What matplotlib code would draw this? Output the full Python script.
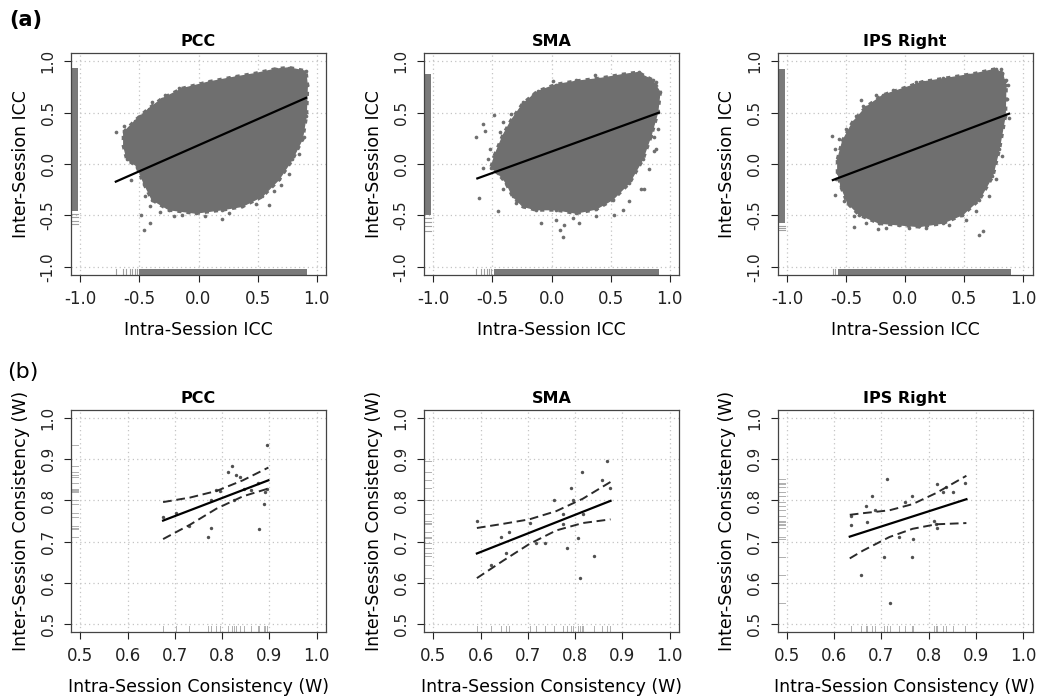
import matplotlib.pyplot as plt
from matplotlib.patches import Rectangle
from matplotlib.transforms import blended_transform_factory

plt.rcParams['font.family'] = ['DejaVu Sans']
plt.rcParams['axes.unicode_minus'] = False

regions = ['PCC', 'SMA', 'IPS Right']

# ---------------- (a) voxel-wise ICC: outline of the dense point cloud ----------------
pcc_cloud_x = [-0.633, -0.534, -0.421, -0.308, -0.138, 0.088, 0.314, 0.483, 0.653, 0.766, 0.907, 0.921, 0.912,
               0.879, 0.794, 0.681, 0.540, 0.370, 0.201, -0.025, -0.251, -0.393, -0.463, -0.520, -0.605, -0.633]
pcc_cloud_y = [0.307, 0.422, 0.536, 0.634, 0.732, 0.797, 0.846, 0.879, 0.922, 0.935, 0.902, 0.765, 0.471,
               0.242, 0.046, -0.150, -0.314, -0.412, -0.444, -0.477, -0.444, -0.346, -0.183, -0.020, 0.046, 0.176]
sma_cloud_x = [-0.482, -0.411, -0.341, -0.242, -0.115, 0.039, 0.208, 0.406, 0.603, 0.730, 0.856, 0.918, 0.899,
               0.842, 0.772, 0.659, 0.518, 0.377, 0.208, 0.039, -0.130, -0.242, -0.327, -0.383, -0.454, -0.510]
sma_cloud_y = [0.078, 0.275, 0.422, 0.585, 0.706, 0.771, 0.804, 0.830, 0.869, 0.889, 0.814, 0.699, 0.503,
               0.275, 0.046, -0.183, -0.346, -0.438, -0.477, -0.444, -0.444, -0.412, -0.314, -0.183, -0.085, -0.036]
ips_cloud_x = [-0.569, -0.527, -0.442, -0.330, -0.189, -0.020, 0.149, 0.375, 0.600, 0.769, 0.825, 0.854, 0.848,
               0.797, 0.741, 0.628, 0.487, 0.318, 0.121, -0.048, -0.217, -0.386, -0.485, -0.541, -0.569]
ips_cloud_y = [0.046, 0.225, 0.405, 0.552, 0.667, 0.732, 0.797, 0.837, 0.879, 0.922, 0.879, 0.765, 0.471,
               0.144, -0.118, -0.346, -0.493, -0.575, -0.608, -0.592, -0.575, -0.493, -0.379, -0.216, -0.085]

# scattered voxels along the rim of each cloud and isolated outliers
pcc_out_x = [-0.703, -0.483, -0.463, -0.407, 0.596, 0.695, -0.576, -0.209, 0.201,
             -0.633, -0.605, -0.562, -0.492, -0.393, -0.280, -0.167, 0.257, 0.568, 0.709,
             -0.455, -0.407, -0.322, -0.138, 0.059, 0.257, 0.483, 0.638, 0.766, 0.850, 0.893]
pcc_out_y = [0.307, -0.493, -0.641, -0.575, -0.395, -0.209, -0.160, -0.510, -0.536,
             0.373, 0.144, 0.046, 0.471, 0.608, 0.667, 0.739, 0.837, 0.889, 0.928,
             -0.314, -0.412, -0.471, -0.493, -0.503, -0.477, -0.386, -0.265, -0.101, 0.095, 0.258]
sma_out_x = [-0.637, -0.580, -0.490, -0.614, -0.454, 0.068, 0.096, 0.110, 0.786, 0.870, 0.870, 0.372, 0.011, 0.603, 0.659,
             -0.566, -0.524, -0.580, -0.538, -0.439, -0.411, -0.341, -0.242, -0.158, 0.208, 0.744, 0.885,
             -0.411, -0.299, -0.087, 0.039, 0.180, 0.237, 0.377, 0.532, 0.758, 0.828, 0.885, 0.899]
sma_out_y = [0.258, 0.389, 0.480, -0.330, -0.461, -0.641, -0.706, -0.592, -0.248, 0.258, 0.127, 0.863, 0.804, -0.444, -0.363,
             0.324, 0.144, -0.036, 0.046, 0.307, 0.405, 0.487, 0.601, 0.667, 0.814, 0.895, 0.797,
             -0.248, -0.379, -0.575, -0.542, -0.526, -0.575, -0.510, -0.493, -0.248, -0.052, 0.144, 0.340]
ips_out_x = [-0.617, -0.597, -0.428, -0.231, 0.628, 0.662, 0.873, 0.882, -0.372, 0.811,
             -0.597, -0.583, -0.555, -0.499, -0.414, -0.358, -0.245, -0.104, 0.093, 0.318, 0.544, 0.741, 0.854, 0.868,
             -0.513, -0.428, -0.330, -0.161, 0.037, 0.177, 0.375, 0.515, 0.600, 0.713, 0.769, 0.825]
ips_out_y = [0.268, -0.297, -0.614, -0.634, -0.690, -0.650, 0.765, 0.444, 0.618, 0.922,
             0.144, -0.150, 0.242, 0.340, 0.471, 0.569, 0.667, 0.716, 0.797, 0.837, 0.863, 0.912, 0.814, 0.634,
             -0.363, -0.510, -0.575, -0.624, -0.624, -0.624, -0.592, -0.542, -0.461, -0.314, -0.150, 0.078]

# regression lines (end points)
pcc_fit_x, pcc_fit_y = [-0.709, 0.920], [-0.176, 0.648]
sma_fit_x, sma_fit_y = [-0.637, 0.918], [-0.144, 0.503]
ips_fit_x, ips_fit_y = [-0.620, 0.890], [-0.160, 0.493]

# rugs: dense range + a few separate ticks below it
pcc_rug_y, pcc_rug_y_sparse = (-0.46, 0.935), [-0.49, -0.52, -0.55, -0.58]
pcc_rug_x, pcc_rug_x_sparse = (-0.50, 0.921), [-0.703, -0.64, -0.61, -0.58, -0.56, -0.54, -0.52]
sma_rug_y, sma_rug_y_sparse = (-0.50, 0.88), [-0.53, -0.56, -0.60, -0.65]
sma_rug_x, sma_rug_x_sparse = (-0.49, 0.913), [-0.637, -0.60, -0.57, -0.55, -0.53, -0.51]
ips_rug_y, ips_rug_y_sparse = (-0.575, 0.922), [-0.60, -0.62, -0.64]
ips_rug_x, ips_rug_x_sparse = (-0.57, 0.896), [-0.611, -0.59]

# ---------------- (b) subject-level consistency (Kendall's W) ----------------
pcc_w_x = [0.675, 0.702, 0.730, 0.776, 0.770, 0.777, 0.787, 0.795, 0.812, 0.821, 0.830, 0.838,
           0.825, 0.846, 0.861, 0.876, 0.878, 0.888, 0.891, 0.896, 0.896]
pcc_w_y = [0.759, 0.769, 0.738, 0.734, 0.711, 0.800, 0.825, 0.822, 0.869, 0.884, 0.861, 0.857,
           0.800, 0.829, 0.825, 0.843, 0.730, 0.792, 0.820, 0.827, 0.934]
sma_w_x = [0.592, 0.622, 0.643, 0.660, 0.654, 0.705, 0.717, 0.736, 0.755, 0.775, 0.775, 0.783,
           0.792, 0.796, 0.807, 0.810, 0.814, 0.817, 0.840, 0.856, 0.868, 0.873]
sma_w_y = [0.751, 0.643, 0.710, 0.723, 0.671, 0.745, 0.697, 0.697, 0.800, 0.768, 0.743, 0.684,
           0.830, 0.800, 0.708, 0.612, 0.870, 0.766, 0.665, 0.849, 0.897, 0.830]
ips_w_x = [0.635, 0.635, 0.656, 0.667, 0.670, 0.680, 0.686, 0.712, 0.705, 0.737, 0.749, 0.765,
           0.767, 0.764, 0.812, 0.816, 0.818, 0.818, 0.830, 0.837, 0.852, 0.878, 0.719]
ips_w_y = [0.740, 0.762, 0.619, 0.787, 0.748, 0.812, 0.777, 0.852, 0.663, 0.712, 0.796, 0.811,
           0.707, 0.663, 0.749, 0.743, 0.734, 0.840, 0.820, 0.832, 0.820, 0.842, 0.551]

# fitted line and 95% confidence band
pcc_band_x = [0.675, 0.732, 0.788, 0.844, 0.898]
pcc_band_lo = [0.706, 0.741, 0.780, 0.810, 0.829]
pcc_band_hi = [0.796, 0.807, 0.823, 0.849, 0.880]
pcc_line_x, pcc_line_y = [0.675, 0.898], [0.751, 0.849]
sma_band_x = [0.592, 0.647, 0.703, 0.760, 0.816, 0.875]
sma_band_lo = [0.611, 0.653, 0.694, 0.727, 0.745, 0.754]
sma_band_hi = [0.733, 0.743, 0.754, 0.774, 0.804, 0.845]
sma_line_x, sma_line_y = [0.592, 0.875], [0.671, 0.799]
ips_band_x = [0.633, 0.661, 0.717, 0.766, 0.816, 0.880]
ips_band_lo = [0.659, 0.678, 0.711, 0.731, 0.742, 0.745]
ips_band_hi = [0.765, 0.769, 0.776, 0.791, 0.818, 0.860]
ips_line_x, ips_line_y = [0.633, 0.880], [0.712, 0.803]

top = [
    (pcc_cloud_x, pcc_cloud_y, pcc_out_x, pcc_out_y, pcc_fit_x, pcc_fit_y,
     pcc_rug_y, pcc_rug_y_sparse, pcc_rug_x, pcc_rug_x_sparse),
    (sma_cloud_x, sma_cloud_y, sma_out_x, sma_out_y, sma_fit_x, sma_fit_y,
     sma_rug_y, sma_rug_y_sparse, sma_rug_x, sma_rug_x_sparse),
    (ips_cloud_x, ips_cloud_y, ips_out_x, ips_out_y, ips_fit_x, ips_fit_y,
     ips_rug_y, ips_rug_y_sparse, ips_rug_x, ips_rug_x_sparse),
]
bottom = [
    (pcc_w_x, pcc_w_y, pcc_band_x, pcc_band_lo, pcc_band_hi, pcc_line_x, pcc_line_y),
    (sma_w_x, sma_w_y, sma_band_x, sma_band_lo, sma_band_hi, sma_line_x, sma_line_y),
    (ips_w_x, ips_w_y, ips_band_x, ips_band_lo, ips_band_hi, ips_line_x, ips_line_y),
]

CLOUD = '#6f6f6f'
RUG_LEN = 0.028


def r_style(ax, ticks, lim):
    ax.set_xlim(lim)
    ax.set_ylim(lim)
    ax.set_xticks(ticks)
    ax.set_yticks(ticks)
    ax.set_xticklabels([f'{t:.1f}' for t in ticks], fontsize=12)
    ax.set_yticklabels([f'{t:.1f}' for t in ticks], fontsize=11, rotation=90, va='center')
    ax.grid(True, color='#c4c4c4', linestyle=(0, (1, 2.5)), linewidth=0.9)
    ax.set_axisbelow(True)
    ax.tick_params(axis='both', direction='out', length=5, width=0.8, colors='#222222')
    ax.tick_params(axis='x', pad=6)
    ax.tick_params(axis='y', pad=6)
    for s in ax.spines.values():
        s.set_linewidth(0.9)
        s.set_edgecolor('#444444')


fig = plt.figure(figsize=(10.38, 7.0), dpi=100)
lefts = [71 / 1038, 424 / 1038, 777.5 / 1038]
w, h = 255 / 1038, 222 / 700

# ---- row (a) ----
ticks_a = [-1.0, -0.5, 0.0, 0.5, 1.0]
for i, (name, d) in enumerate(zip(regions, top)):
    cx, cy, ox, oy, fx, fy, ry, rys, rx, rxs = d
    ax = fig.add_axes([lefts[i], 1 - 275 / 700, w, h])
    ax.fill(cx, cy, color=CLOUD, zorder=2)
    ax.plot(cx + cx[:1], cy + cy[:1], color=CLOUD, lw=3, linestyle=(0, (1, 1.2)), zorder=2)
    ax.scatter(cx, cy, s=7, color=CLOUD, linewidths=0, zorder=2)
    ax.scatter(ox, oy, s=7, color=CLOUD, linewidths=0, zorder=2)
    ax.plot(fx, fy, color='black', lw=1.6, zorder=3, solid_capstyle='butt')

    # rugs along the left and bottom edges
    ty = blended_transform_factory(ax.transAxes, ax.transData)
    tx = blended_transform_factory(ax.transData, ax.transAxes)
    ax.add_patch(Rectangle((0, ry[0]), RUG_LEN, ry[1] - ry[0], transform=ty,
                           facecolor='#7a7a7a', edgecolor='none', zorder=2))
    ax.add_patch(Rectangle((rx[0], 0), rx[1] - rx[0], RUG_LEN, transform=tx,
                           facecolor='#7a7a7a', edgecolor='none', zorder=2))
    for v in rys:
        ax.plot([0, RUG_LEN], [v, v], transform=ty, color='#a0a0a0', lw=0.8, zorder=2)
    for v in rxs:
        ax.plot([v, v], [0, RUG_LEN], transform=tx, color='#a0a0a0', lw=0.8, zorder=2)

    r_style(ax, ticks_a, (-1.08, 1.08))
    ax.set_title(name, fontsize=11.5, fontweight='bold', pad=5)
    ax.set_xlabel('Intra-Session ICC', fontsize=12.5, labelpad=9)
    ax.set_ylabel('Inter-Session ICC', fontsize=12.5, labelpad=8)

# ---- row (b) ----
ticks_b = [0.5, 0.6, 0.7, 0.8, 0.9, 1.0]
for i, (name, d) in enumerate(zip(regions, bottom)):
    px, py, bx, blo, bhi, lx, ly = d
    ax = fig.add_axes([lefts[i], 1 - 632 / 700, w, h])
    ax.scatter(px, py, s=6, color='#505050', linewidths=0, zorder=3)
    ax.plot(lx, ly, color='black', lw=1.6, zorder=4)
    ax.plot(bx, blo, color='#2a2a2a', lw=1.4, linestyle=(0, (4.5, 2.4)), zorder=4)
    ax.plot(bx, bhi, color='#2a2a2a', lw=1.4, linestyle=(0, (4.5, 2.4)), zorder=4)

    ty = blended_transform_factory(ax.transAxes, ax.transData)
    tx = blended_transform_factory(ax.transData, ax.transAxes)
    for v in py:
        ax.plot([0, RUG_LEN], [v, v], transform=ty, color='#b0b0b0', lw=0.7, zorder=2)
    for v in px:
        ax.plot([v, v], [0, RUG_LEN], transform=tx, color='#b0b0b0', lw=0.7, zorder=2)

    r_style(ax, ticks_b, (0.48, 1.02))
    ax.set_title(name, fontsize=11.5, fontweight='bold', pad=5)
    ax.set_xlabel('Intra-Session Consistency (W)', fontsize=12.5, labelpad=9)
    ax.set_ylabel('Inter-Session Consistency (W)', fontsize=12.5, labelpad=8)

fig.text(0.009, 0.972, '(a)', fontsize=15, fontweight='bold', va='center', ha='left')
fig.text(0.007, 0.469, '(b)', fontsize=16, va='center', ha='left')

fig.savefig('out.png', dpi=100)
